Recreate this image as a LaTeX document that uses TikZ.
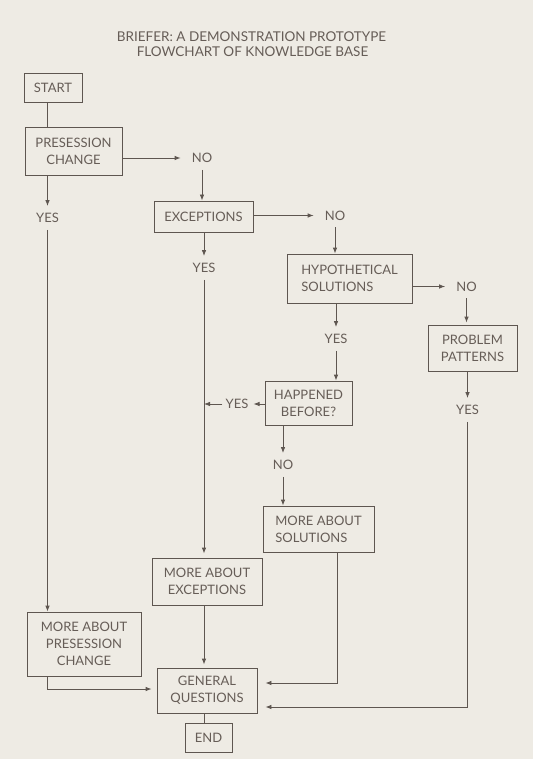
\documentclass[tikz,border=0pt]{standalone}
\usepackage{fontspec}
\setmainfont{Lato}
\usetikzlibrary{arrows.meta}
\definecolor{bg}{HTML}{EEEBE4}
\definecolor{ink}{HTML}{5E5650}
\definecolor{txt}{HTML}{665D57}
\begin{document}
\begin{tikzpicture}[x=1pt,y=-1pt,
  every node/.style={font=\fontsize{13}{17}\selectfont, text=txt},
  box/.style={draw=ink, line width=0.8pt, inner sep=0pt, align=center},
  lbl/.style={inner xsep=11pt, inner ysep=7pt, text height=9.4pt, text depth=0pt},
  titletxt/.style={inner sep=0pt, text height=9.7pt, text depth=0pt, font=\fontsize{13.5}{15}\selectfont},
  arr/.style={draw=ink, line width=0.8pt, -{Latex[length=6pt,width=4.5pt]}},
  ln/.style={draw=ink, line width=0.8pt}]
\fill[bg] (0,0) rectangle (533,759);
\useasboundingbox (0,0) rectangle (533,759);

% title
\node[titletxt] (t1) at (251.5,37) {BRIEFER: A DEMONSTRATION PROTOTYPE};
\node[titletxt] (t2) at (252.5,52) {FLOWCHART OF KNOWLEDGE BASE};

% boxes
\node[box, minimum width=58pt, minimum height=29pt] (start) at (53,87.5) {START};
\node[box, minimum width=97pt, minimum height=48pt] (pc) at (73.5,151) {PRESESSION\\CHANGE};
\node[box, minimum width=99pt, minimum height=31pt] (exc) at (203.5,216.5) {EXCEPTIONS};
\node[box, minimum width=125pt, minimum height=49pt, align=left] (hyp) at (349.5,278.5) {HYPOTHETICAL\\SOLUTIONS};
\node[box, minimum width=89pt, minimum height=46pt] (pp) at (472.5,348) {PROBLEM\\PATTERNS};
\node[box, minimum width=87pt, minimum height=44pt] (hb) at (308.5,403) {HAPPENED\\BEFORE?};
\node[box, minimum width=111pt, minimum height=46pt, align=left] (mas) at (318.5,529) {MORE ABOUT\\SOLUTIONS};
\node[box, minimum width=110pt, minimum height=47pt] (mae) at (207,581.5) {MORE ABOUT\\EXCEPTIONS};
\node[box, minimum width=114pt, minimum height=64pt] (mapc) at (84,644) {MORE ABOUT\\PRESESSION\\CHANGE};
\node[box, minimum width=100pt, minimum height=45pt] (gq) at (207,690.5) {GENERAL\\QUESTIONS};
\node[box, minimum width=47pt, minimum height=29pt] (end) at (208.5,737.5) {END};

% labels
\node[lbl] (no1) at (202,158) {NO};
\node[lbl] (yes1) at (47.5,218) {YES};
\node[lbl] (no2) at (335,215.5) {NO};
\node[lbl] (yes2) at (204,268) {YES};
\node[lbl] (no3) at (466.5,286.5) {NO};
\node[lbl] (yes3) at (336,339) {YES};
\node[lbl] (yes4) at (467.5,410) {YES};
\node[lbl, inner xsep=3pt] (yes5) at (237,404) {YES};
\node[lbl] (no4) at (283,465) {NO};

% connectors
\draw[ln] (start.south -| yes1) -- (pc.north -| yes1);
\draw[arr] (pc.south -| yes1) -- (yes1.north);
\draw[arr] (yes1.south) -- (mapc.north -| yes1);
\draw[arr] (pc.east |- no1) -- (no1.west);
\draw[arr] (no1.south) -- (exc.north -| no1);
\draw[arr] (exc.east |- no2) -- (no2.west);
\draw[arr] (exc.south -| yes2) -- (yes2.north);
\draw[arr, shorten >=4pt] (yes2.south) -- (mae.north -| yes2);
\draw[arr] (no2.south) -- (hyp.north -| no2);
\draw[arr] (hyp.east |- no3) -- (no3.west);
\draw[arr] (hyp.south -| yes3) -- (yes3.north);
\draw[arr] (yes3.south) -- (hb.north -| yes3);
\draw[arr, shorten >=2pt] (no3.south) -- (pp.north -| no3);
\draw[arr] (pp.south -| yes4) -- (yes4.north);
\draw[arr, shorten >=8pt] (yes4.south) |- ([yshift=-16.5pt]gq.east);
\draw[arr, shorten >=2pt] (hb.west |- yes5) -- (yes5.east);
\draw[arr] (yes5.west) -- (yes5 -| yes2);
\draw[arr] (hb.south -| no4) -- (no4.north);
\draw[arr] (no4.south) -- (mas.north -| no4);
\draw[arr, shorten >=8pt] ([xshift=18.5pt]mas.south) |- ([yshift=7.5pt]gq.east);
\draw[arr, shorten >=3pt] (mae.south -| yes2) -- (gq.north -| yes2);
\draw[arr, shorten >=5pt] (mapc.south -| yes1) |- ([yshift=1.5pt]gq.west);
\draw[ln] (gq.south -| yes2) -- (end.north -| yes2);
\end{tikzpicture}
\end{document}
